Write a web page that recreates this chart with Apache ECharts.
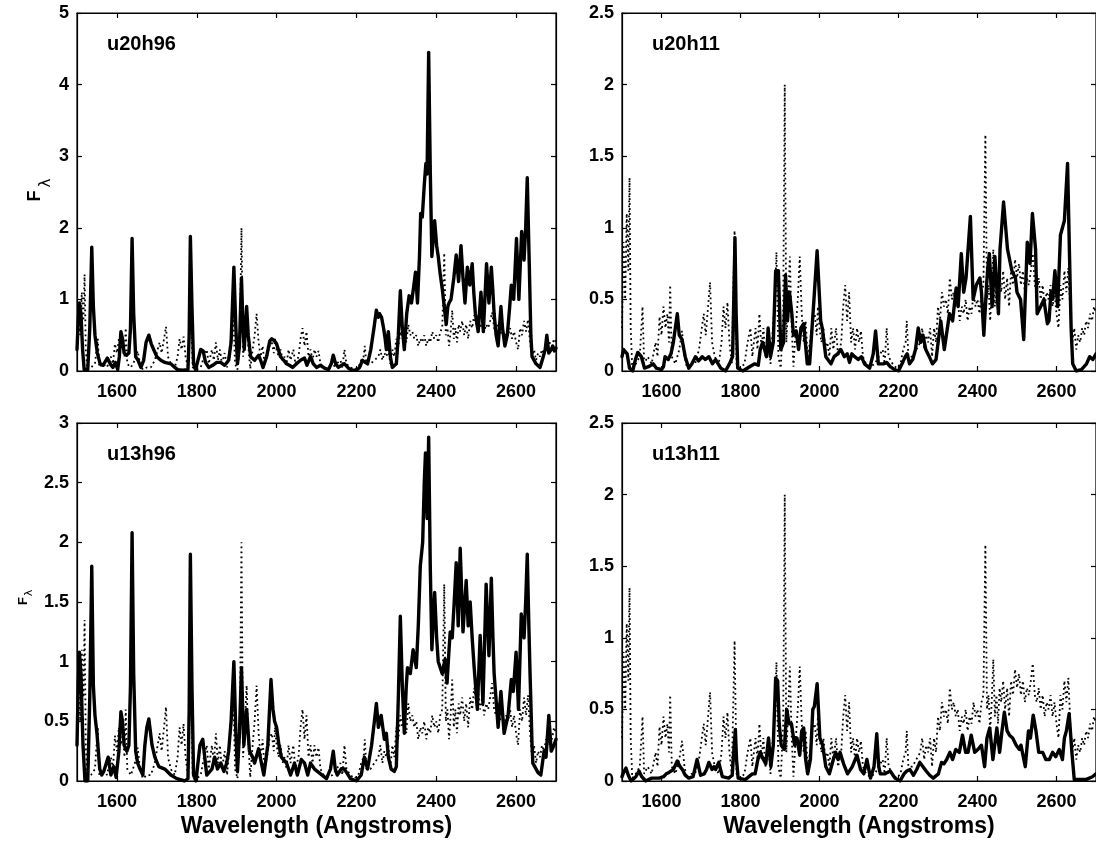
<!DOCTYPE html>
<html>
<head>
<meta charset="utf-8">
<script src="https://cdn.jsdelivr.net/npm/echarts@6/dist/echarts.min.js"></script>
<style>
  html, body { margin: 0; padding: 0; background: #fff; }
  #chart { width: 1096px; height: 841px; }
</style>
</head>
<body>
<div id="chart"></div>
<script>
// observed spectrum (dotted), same in every panel: [wavelength, flux]
const observed = [
  [1500,0.3],[1504,0.9],[1508,0.5],[1512,1.1],[1516,0.7],[1519,1.35],[1522,0.3],[1526,0.02],[1535,0.05],[1545,0.1],
  [1552,0.45],[1556,0.05],[1565,0.1],[1575,0.05],[1585,0.2],[1590,0.1],[1595,0.38],[1600,0.25],[1605,0.45],[1610,0.3],
  [1615,0.4],[1619,0.2],[1622,0.6],[1626,0.1],[1635,0.05],[1645,0.15],[1652,0.28],[1658,0.1],[1665,0.02],[1675,0.05],
  [1685,0.05],[1695,0.15],[1702,0.3],[1707,0.4],[1712,0.25],[1718,0.45],[1723,0.62],[1728,0.2],[1735,0.1],[1745,0.05],
  [1752,0.2],[1757,0.45],[1762,0.3],[1767,0.48],[1772,0.2],[1778,0.05],[1785,0.98],[1790,0.05],[1800,0.02],[1810,0.05],
  [1818,0.2],[1825,0.3],[1830,0.1],[1838,0.3],[1843,0.15],[1848,0.4],[1853,0.15],[1858,0.3],[1863,0.1],[1870,0.25],
  [1876,0.05],[1882,0.3],[1887,0.5],[1891,0.83],[1896,0.1],[1902,0.02],[1908,0.4],[1912,2.0],[1916,0.2],[1921,0.5],
  [1925,0.8],[1929,0.35],[1934,0.03],[1940,0.3],[1945,0.5],[1950,0.8],[1955,0.4],[1960,0.2],[1965,0.35],[1970,0.1],
  [1976,0.2],[1982,0.35],[1988,0.4],[1993,0.25],[1996,0.45],[2000,0.3],[2005,0.2],[2010,0.3],[2015,0.15],[2020,0.2],
  [2025,0.1],[2030,0.3],[2035,0.15],[2042,0.3],[2047,0.1],[2055,0.2],[2060,0.45],[2065,0.6],[2070,0.35],[2075,0.55],
  [2080,0.2],[2085,0.3],[2090,0.15],[2095,0.3],[2100,0.2],[2105,0.28],[2110,0.1],[2118,0.05],[2128,0.03],[2140,0.05],
  [2150,0.1],[2160,0.15],[2165,0.05],[2170,0.3],[2175,0.1],[2185,0.05],[2195,0.02],[2205,0.05],[2212,0.15],[2218,0.2],
  [2221,0.35],[2225,0.1],[2235,0.1],[2245,0.15],[2255,0.2],[2260,0.3],[2265,0.15],[2270,0.25],[2275,0.2],[2280,0.3],
  [2285,0.1],[2290,0.3],[2295,0.2],[2300,0.45],[2305,0.35],[2310,0.55],[2315,0.45],[2320,0.5],[2325,0.4],[2330,0.65],
  [2335,0.5],[2340,0.55],[2345,0.45],[2350,0.5],[2355,0.35],[2360,0.45],[2365,0.4],[2370,0.5],[2375,0.35],[2380,0.45],
  [2385,0.4],[2390,0.55],[2395,0.45],[2400,0.5],[2405,0.4],[2410,0.55],[2415,0.6],[2420,1.65],[2424,0.5],[2428,0.6],
  [2432,0.35],[2436,0.55],[2440,0.85],[2444,0.45],[2448,0.6],[2452,0.4],[2456,0.65],[2460,0.55],[2465,0.7],[2470,0.5],
  [2475,0.65],[2480,0.45],[2485,0.7],[2490,0.6],[2495,0.78],[2500,0.65],[2505,0.75],[2510,0.6],[2515,0.7],[2520,0.55],
  [2525,0.65],[2530,0.6],[2535,0.7],[2540,0.82],[2545,0.6],[2550,0.55],[2555,0.65],[2560,0.5],[2565,0.6],[2570,0.45],
  [2575,0.55],[2580,0.5],[2585,0.6],[2590,0.45],[2595,0.55],[2600,0.4],[2605,0.3],[2610,0.6],[2615,0.5],[2620,0.7],
  [2625,0.55],[2630,0.72],[2635,0.4],[2640,0.2],[2645,0.3],[2650,0.15],[2655,0.25],[2660,0.2],[2665,0.3],[2670,0.25],
  [2675,0.35],[2680,0.3],[2685,0.4],[2690,0.35],[2695,0.45],[2700,0.4]
];

// model spectra (solid)
const u20h96 = [
  [1500,0.3],[1503,0.7],[1506,0.95],[1510,0.8],[1514,0.3],[1518,0.02],[1527,0.02],[1532,0.6],[1537,1.73],[1541,0.9],
  [1545,0.5],[1551,0.25],[1558,0.1],[1565,0.08],[1570,0.1],[1576,0.18],[1583,0.1],[1590,0.05],[1596,0.12],[1602,0.02],
  [1606,0.2],[1610,0.55],[1614,0.45],[1618,0.25],[1624,0.22],[1630,0.25],[1634,0.6],[1638,1.85],[1642,0.8],[1647,0.2],
  [1653,0.15],[1660,0.05],[1667,0.15],[1673,0.4],[1680,0.5],[1686,0.38],[1692,0.3],[1700,0.2],[1710,0.15],[1720,0.12],
  [1735,0.1],[1745,0.05],[1752,0.02],[1765,0.01],[1778,0.02],[1781,0.5],[1784,1.88],[1788,0.9],[1792,0.1],[1797,0.02],
  [1803,0.15],[1810,0.3],[1816,0.28],[1822,0.12],[1830,0.05],[1840,0.08],[1850,0.12],[1860,0.12],[1870,0.08],[1880,0.15],
  [1886,0.4],[1893,1.45],[1898,0.6],[1902,0.1],[1907,0.35],[1912,1.3],[1916,0.6],[1919,0.3],[1925,0.9],[1929,0.5],
  [1935,0.2],[1945,0.15],[1955,0.22],[1960,0.15],[1966,0.05],[1975,0.2],[1983,0.42],[1988,0.45],[1995,0.42],[2000,0.38],
  [2010,0.2],[2018,0.15],[2025,0.1],[2032,0.08],[2040,0.05],[2050,0.1],[2060,0.15],[2070,0.18],[2076,0.08],[2085,0.2],
  [2092,0.1],[2100,0.05],[2110,0.08],[2120,0.04],[2130,0.02],[2137,0.1],[2142,0.22],[2148,0.1],[2155,0.05],[2163,0.08],
  [2170,0.1],[2180,0.04],[2190,0.01],[2200,0.01],[2208,0.05],[2215,0.15],[2222,0.12],[2228,0.1],[2236,0.3],[2244,0.6],
  [2250,0.85],[2255,0.75],[2258,0.8],[2263,0.75],[2268,0.6],[2272,0.45],[2275,0.3],[2280,0.55],[2285,0.2],[2290,0.05],
  [2300,0.1],[2305,0.5],[2310,1.12],[2315,0.6],[2320,0.3],[2326,0.8],[2332,1.05],[2338,0.95],[2344,1.2],[2348,1.38],
  [2353,0.95],[2358,1.6],[2361,2.2],[2365,2.15],[2370,2.6],[2374,2.9],[2377,2.75],[2381,4.45],[2385,2.8],[2389,1.6],
  [2396,2.1],[2401,1.75],[2405,1.6],[2410,1.35],[2415,1.15],[2420,0.9],[2425,0.65],[2429,0.9],[2432,0.95],[2437,1.0],
  [2444,1.3],[2450,1.62],[2456,1.25],[2462,1.75],[2467,1.3],[2472,0.95],[2478,1.45],[2484,1.2],[2490,1.5],[2494,1.1],
  [2498,0.8],[2505,0.55],[2512,1.1],[2518,0.55],[2526,1.5],[2532,0.95],[2538,1.45],[2542,1.1],[2545,0.8],[2550,0.5],
  [2555,0.35],[2562,0.9],[2566,0.6],[2572,0.35],[2578,0.5],[2584,0.9],[2588,1.2],[2594,1.0],[2601,1.85],[2607,1.0],
  [2614,1.95],[2620,1.55],[2624,2.0],[2628,2.7],[2633,1.5],[2637,0.5],[2640,0.2],[2650,0.1],[2660,0.05],[2668,0.2],
  [2673,0.3],[2677,0.5],[2682,0.25],[2688,0.3],[2692,0.35],[2696,0.28],[2700,0.32]
];

const u20h11 = [
  [1500,0.1],[1504,0.15],[1508,0.16],[1513,0.12],[1519,0.02],[1527,0.0],[1534,0.08],[1540,0.13],[1549,0.1],[1557,0.02],
  [1567,0.03],[1579,0.05],[1587,0.02],[1600,0.01],[1605,0.03],[1609,0.1],[1617,0.08],[1624,0.12],[1630,0.2],[1636,0.32],
  [1640,0.4],[1645,0.25],[1652,0.22],[1660,0.1],[1669,0.02],[1677,0.05],[1686,0.1],[1694,0.07],[1703,0.1],[1711,0.08],
  [1720,0.1],[1729,0.05],[1737,0.08],[1750,0.02],[1762,0.0],[1772,0.05],[1780,0.1],[1783,0.5],[1786,0.93],[1789,0.4],
  [1793,0.02],[1806,0.0],[1823,0.03],[1836,0.05],[1845,0.04],[1850,0.15],[1856,0.2],[1861,0.15],[1866,0.1],[1870,0.3],
  [1876,0.1],[1883,0.2],[1889,0.7],[1896,0.7],[1902,0.15],[1909,0.2],[1914,0.67],[1919,0.35],[1924,0.55],[1930,0.4],
  [1934,0.25],[1941,0.28],[1947,0.15],[1953,0.3],[1960,0.33],[1969,0.05],[1975,0.05],[1986,0.5],[1994,0.84],[2003,0.35],
  [2007,0.3],[2016,0.1],[2029,0.05],[2037,0.1],[2046,0.12],[2054,0.15],[2063,0.1],[2070,0.12],[2076,0.06],[2082,0.12],
  [2089,0.1],[2098,0.08],[2106,0.1],[2114,0.05],[2127,0.02],[2136,0.12],[2142,0.28],[2149,0.05],[2162,0.05],[2170,0.06],
  [2179,0.03],[2190,0.01],[2200,0.0],[2209,0.05],[2217,0.1],[2222,0.12],[2228,0.05],[2236,0.08],[2243,0.15],[2250,0.3],
  [2256,0.2],[2262,0.25],[2269,0.15],[2278,0.1],[2286,0.05],[2295,0.08],[2307,0.35],[2316,0.15],[2329,0.4],[2337,0.35],
  [2346,0.58],[2351,0.45],[2359,0.82],[2365,0.55],[2371,0.65],[2382,1.08],[2389,0.5],[2397,0.6],[2401,0.6],[2406,0.65],
  [2410,0.55],[2416,0.25],[2423,0.6],[2427,0.75],[2430,0.82],[2437,0.45],[2444,0.8],[2453,0.4],[2457,0.85],[2466,1.18],
  [2476,0.85],[2487,0.7],[2496,0.65],[2500,0.55],[2509,0.5],[2517,0.22],[2526,0.9],[2533,0.75],[2539,1.1],[2547,0.85],
  [2551,0.4],[2560,0.45],[2568,0.5],[2577,0.33],[2581,0.35],[2586,0.55],[2590,0.5],[2596,0.7],[2603,0.45],[2610,0.95],
  [2620,1.05],[2628,1.45],[2633,0.8],[2637,0.3],[2641,0.05],[2650,0.0],[2663,0.01],[2676,0.05],[2684,0.1],[2692,0.08],
  [2700,0.12]
];

const u13h96 = [
  [1500,0.3],[1503,0.8],[1506,1.08],[1510,0.9],[1515,0.3],[1520,0.0],[1527,0.0],[1532,0.7],[1537,1.8],[1541,0.8],
  [1545,0.55],[1550,0.4],[1557,0.1],[1562,0.05],[1567,0.08],[1572,0.08],[1578,0.2],[1585,0.05],[1592,0.12],[1598,0.03],
  [1605,0.25],[1610,0.58],[1614,0.5],[1618,0.3],[1625,0.25],[1630,0.3],[1634,0.8],[1638,2.08],[1642,0.9],[1647,0.25],
  [1652,0.15],[1658,0.1],[1665,0.05],[1670,0.3],[1675,0.45],[1680,0.52],[1688,0.3],[1695,0.2],[1705,0.12],[1720,0.1],
  [1735,0.05],[1750,0.02],[1770,0.0],[1778,0.02],[1781,0.6],[1784,1.9],[1788,0.8],[1792,0.05],[1798,0.0],[1803,0.15],
  [1808,0.3],[1815,0.35],[1820,0.2],[1825,0.05],[1838,0.1],[1845,0.2],[1852,0.1],[1860,0.15],[1868,0.08],[1875,0.15],
  [1880,0.25],[1886,0.5],[1893,1.0],[1898,0.4],[1902,0.08],[1907,0.4],[1912,0.95],[1916,0.5],[1918,0.3],[1925,0.6],
  [1929,0.4],[1932,0.25],[1940,0.2],[1945,0.15],[1955,0.27],[1962,0.15],[1968,0.05],[1978,0.3],[1986,0.85],[1991,0.6],
  [1995,0.5],[2000,0.45],[2006,0.3],[2012,0.2],[2025,0.15],[2035,0.05],[2045,0.15],[2052,0.05],[2062,0.18],[2070,0.15],
  [2078,0.05],[2085,0.15],[2095,0.1],[2110,0.06],[2125,0.02],[2135,0.1],[2142,0.25],[2147,0.1],[2152,0.05],[2162,0.1],
  [2170,0.1],[2185,0.02],[2200,0.0],[2212,0.05],[2220,0.2],[2228,0.1],[2238,0.3],[2245,0.5],[2250,0.65],[2255,0.45],
  [2262,0.55],[2270,0.35],[2275,0.4],[2280,0.2],[2287,0.1],[2295,0.08],[2300,0.12],[2305,0.7],[2310,1.38],[2315,0.8],
  [2320,0.4],[2325,0.8],[2328,0.95],[2335,0.9],[2342,1.1],[2350,0.95],[2355,1.3],[2360,1.8],[2366,2.0],[2370,2.5],
  [2373,2.75],[2377,2.2],[2381,2.88],[2385,1.8],[2389,1.1],[2396,1.58],[2401,1.2],[2405,1.0],[2415,0.9],[2422,1.02],
  [2427,0.82],[2432,1.1],[2435,1.25],[2440,1.2],[2445,1.5],[2450,1.83],[2455,1.3],[2460,1.95],[2467,1.25],[2475,1.68],
  [2480,1.3],[2485,1.5],[2490,1.2],[2495,0.95],[2503,0.6],[2510,1.22],[2517,0.65],[2525,1.65],[2532,1.05],[2538,1.7],
  [2542,1.2],[2545,0.9],[2555,0.45],[2562,0.75],[2570,0.4],[2580,0.55],[2588,0.85],[2593,0.75],[2600,1.08],[2606,0.6],
  [2613,1.4],[2620,1.2],[2624,1.5],[2628,1.9],[2632,1.3],[2635,0.9],[2640,0.3],[2642,0.15],[2655,0.07],[2662,0.05],
  [2670,0.25],[2675,0.2],[2682,0.55],[2688,0.25],[2695,0.3],[2700,0.35]
];

const u13h11 = [
  [1500,0.03],[1504,0.06],[1510,0.09],[1516,0.04],[1523,0.0],[1535,0.03],[1543,0.07],[1550,0.03],[1560,0.0],[1575,0.02],
  [1594,0.02],[1605,0.03],[1612,0.05],[1619,0.06],[1630,0.08],[1640,0.14],[1647,0.1],[1653,0.08],[1660,0.04],[1669,0.02],
  [1680,0.03],[1690,0.15],[1699,0.04],[1708,0.05],[1714,0.08],[1720,0.13],[1728,0.08],[1733,0.1],[1737,0.08],[1745,0.13],
  [1754,0.03],[1770,0.02],[1779,0.04],[1784,0.25],[1787,0.36],[1790,0.15],[1794,0.02],[1812,0.01],[1830,0.05],[1837,0.05],
  [1844,0.15],[1850,0.2],[1855,0.2],[1858,0.15],[1864,0.12],[1871,0.3],[1877,0.1],[1883,0.25],[1889,0.72],[1894,0.7],
  [1898,0.4],[1903,0.25],[1911,0.22],[1917,0.5],[1923,0.4],[1929,0.4],[1937,0.25],[1943,0.3],[1950,0.18],[1955,0.35],
  [1960,0.37],[1965,0.15],[1970,0.05],[1977,0.15],[1983,0.5],[1987,0.52],[1994,0.68],[2001,0.3],[2008,0.25],[2016,0.1],
  [2025,0.05],[2035,0.15],[2041,0.2],[2047,0.15],[2052,0.2],[2061,0.12],[2071,0.05],[2083,0.1],[2088,0.1],[2095,0.18],
  [2104,0.08],[2112,0.05],[2120,0.15],[2129,0.02],[2138,0.1],[2145,0.33],[2150,0.1],[2154,0.05],[2166,0.05],[2172,0.06],
  [2179,0.07],[2191,0.02],[2204,0.0],[2214,0.05],[2221,0.07],[2229,0.08],[2238,0.04],[2246,0.08],[2254,0.13],[2262,0.1],
  [2270,0.07],[2279,0.04],[2288,0.02],[2301,0.05],[2309,0.13],[2315,0.12],[2322,0.15],[2330,0.2],[2337,0.15],[2345,0.22],
  [2354,0.2],[2362,0.32],[2370,0.2],[2376,0.2],[2384,0.32],[2393,0.2],[2401,0.22],[2410,0.25],[2418,0.1],[2424,0.3],
  [2431,0.37],[2439,0.15],[2449,0.37],[2456,0.2],[2462,0.35],[2468,0.48],[2475,0.35],[2481,0.32],[2489,0.3],[2498,0.25],
  [2506,0.22],[2510,0.25],[2521,0.1],[2529,0.35],[2534,0.3],[2541,0.46],[2548,0.35],[2555,0.2],[2565,0.2],[2573,0.15],
  [2582,0.15],[2590,0.2],[2598,0.17],[2607,0.22],[2615,0.15],[2620,0.3],[2625,0.35],[2632,0.47],[2639,0.2],[2645,0.01],
  [2674,0.01],[2691,0.03],[2700,0.05]
];

const xTicks = [1600, 1800, 2000, 2200, 2400, 2600];
const panelNames = ['u20h96', 'u20h11', 'u13h96', 'u13h11'];
const yMaxes = [5, 2.5, 3, 2.5];
const yIntervals = [1, 0.5, 0.5, 0.5];
const xLabel = 'Wavelength (Angstroms)';

const models = [u20h96, u20h11, u13h96, u13h11];
const FONT = '"Liberation Sans", Arial, Helvetica, sans-serif';

// panel placement
const layout = [
  { left: 77,  top: 13 },
  { left: 622, top: 13 },
  { left: 77,  top: 423 },
  { left: 622, top: 423 }
];
const PW = 479, PH = 358;

const grids = [], xAxes = [], yAxes = [], series = [], titles = [];
const plain = function (v) { return String(v); };

layout.forEach(function (p, i) {
  grids.push({
    left: p.left, top: p.top, width: PW, height: PH,
    show: true, borderColor: '#000', borderWidth: 1.2, backgroundColor: '#fff'
  });
  // bottom axis with labels
  xAxes.push({
    type: 'value', gridIndex: i, min: 1500, max: 2700, position: 'bottom',
    axisLine: { show: true, onZero: false, lineStyle: { color: '#000', width: 1.2 } },
    axisTick: { show: true, inside: true, length: 5, customValues: xTicks, lineStyle: { color: '#000', width: 1.2 } },
    axisLabel: { show: true, customValues: xTicks, formatter: plain, margin: 12, color: '#000', fontSize: 18, fontWeight: 'bold', fontFamily: FONT },
    splitLine: { show: false },
    name: i >= 2 ? xLabel : '',
    nameLocation: 'middle', nameGap: 34,
    nameTextStyle: { color: '#000', fontSize: 23, fontWeight: 'bold', fontFamily: FONT }
  });
  // top axis, ticks only
  xAxes.push({
    type: 'value', gridIndex: i, min: 1500, max: 2700, position: 'top',
    axisLine: { show: true, onZero: false, lineStyle: { color: '#000', width: 1.2 } },
    axisTick: { show: true, inside: true, length: 5, customValues: xTicks, lineStyle: { color: '#000', width: 1.2 } },
    axisLabel: { show: false },
    splitLine: { show: false }
  });
  yAxes.push({
    type: 'value', gridIndex: i, min: 0, max: yMaxes[i], interval: yIntervals[i], position: 'left',
    axisLine: { show: true, onZero: false, lineStyle: { color: '#000', width: 1.2 } },
    axisTick: { show: true, inside: true, length: 5, lineStyle: { color: '#000', width: 1.2 } },
    axisLabel: { show: true, formatter: plain, margin: 8, color: '#000', fontSize: 18, fontWeight: 'bold', fontFamily: FONT, showMaxLabel: true, showMinLabel: true },
    splitLine: { show: false }
  });
  yAxes.push({
    type: 'value', gridIndex: i, min: 0, max: yMaxes[i], interval: yIntervals[i], position: 'right',
    axisLine: { show: true, onZero: false, lineStyle: { color: '#000', width: 1.2 } },
    axisTick: { show: true, inside: true, length: 5, lineStyle: { color: '#000', width: 1.2 } },
    axisLabel: { show: false },
    splitLine: { show: false }
  });

  series.push({
    type: 'line', xAxisIndex: 2 * i, yAxisIndex: 2 * i, data: observed,
    showSymbol: false, symbol: 'none', z: 2,
    lineStyle: { color: '#000', width: 1.8, type: [1.8, 3.2], cap: 'butt' }
  });
  series.push({
    type: 'line', xAxisIndex: 2 * i, yAxisIndex: 2 * i, data: models[i],
    showSymbol: false, symbol: 'none', z: 3,
    lineStyle: { color: '#000', width: 3.4, join: 'round', cap: 'round' }
  });

  titles.push({
    text: panelNames[i], left: p.left + 25, top: p.top + 16,
    textStyle: { color: '#000', fontSize: 20, fontWeight: 'bold', fontFamily: FONT }
  });
});

const chart = echarts.init(document.getElementById('chart'), null, { renderer: 'canvas' });
chart.setOption({
  animation: false,
  backgroundColor: '#fff',
  title: titles,
  grid: grids,
  xAxis: xAxes,
  yAxis: yAxes,
  series: series,
  graphic: [
    { type: 'text', x: 35, y: 196, rotation: Math.PI / 2,
      style: { text: 'F', fill: '#000', font: 'bold 18px ' + FONT, align: 'center', verticalAlign: 'middle', textAlign: 'center', textVerticalAlign: 'middle' } },
    { type: 'text', x: 46, y: 183, rotation: Math.PI / 2,
      style: { text: 'λ', fill: '#000', font: '15px "DejaVu Sans", sans-serif', align: 'center', verticalAlign: 'middle', textAlign: 'center', textVerticalAlign: 'middle' } },
    { type: 'text', x: 23, y: 601, rotation: Math.PI / 2,
      style: { text: 'F', fill: '#000', font: 'bold 13px ' + FONT, align: 'center', verticalAlign: 'middle', textAlign: 'center', textVerticalAlign: 'middle' } },
    { type: 'text', x: 29, y: 593, rotation: Math.PI / 2,
      style: { text: 'λ', fill: '#000', font: '11px "DejaVu Sans", sans-serif', align: 'center', verticalAlign: 'middle', textAlign: 'center', textVerticalAlign: 'middle' } }
  ]
});
</script>
</body>
</html>
